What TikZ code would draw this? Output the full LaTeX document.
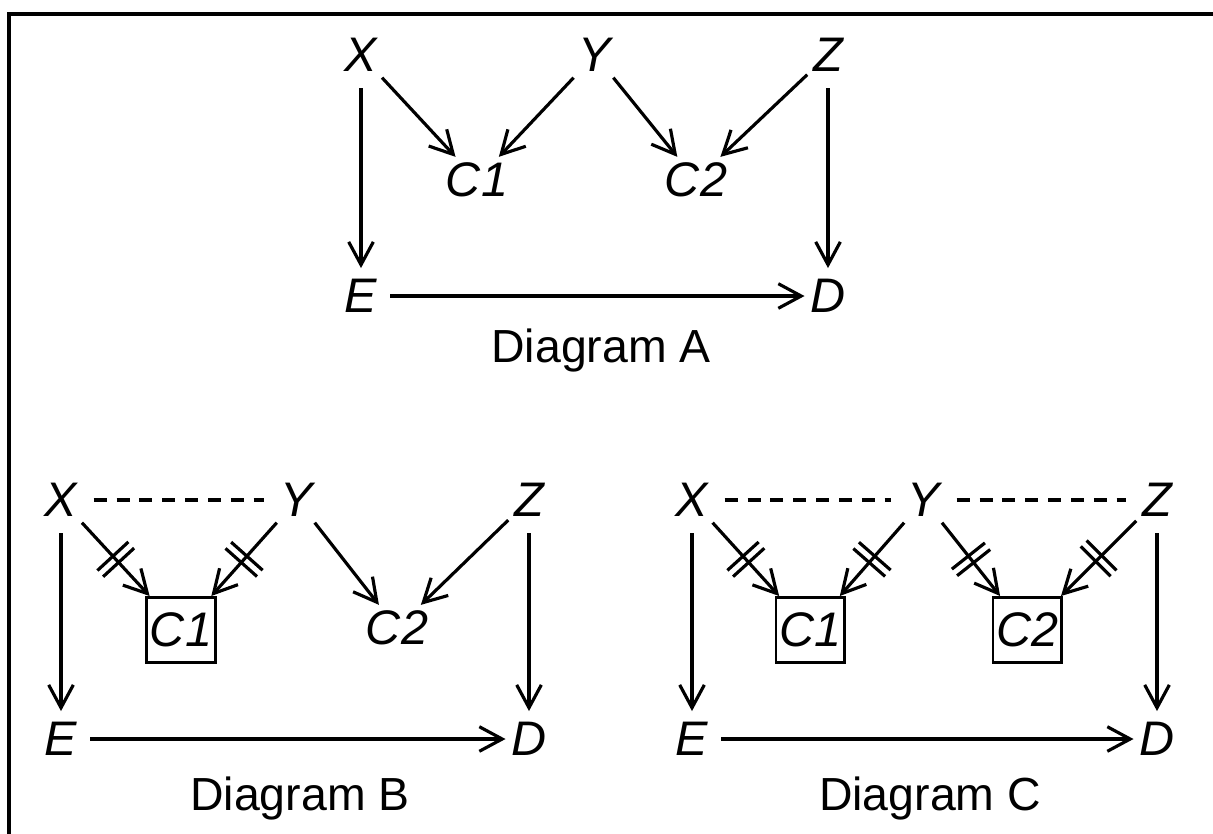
\documentclass[tikz,border=0pt]{standalone}
\usepackage{fontspec}
\setmainfont{Liberation Sans}
\usetikzlibrary{arrows.meta,decorations.markings}
\newcommand{\varfont}{\fontsize{13.8}{16}\selectfont\itshape}
\newcommand{\capfont}{\fontsize{13.2}{16}\selectfont}

\begin{document}
\begin{tikzpicture}[x=0.01cm,y=-0.01cm,
  var/.style={inner sep=1.5pt,font=\varfont},
  cbox/.style={draw,line width=0.85pt,inner sep=0pt,minimum width=0.68cm,minimum height=0.65cm,font=\varfont},
  edge/.style={line width=0.9pt,-{Straight Barb[length=6.5pt,width=7pt]}},
  down/.style={edge,shorten <=3pt,shorten >=1.5pt},
  across/.style={edge,shorten <=2pt},
  cut/.style={edge,postaction={decorate,decoration={markings,
    mark=at position 0.5 with {\draw[-,line width=0.9pt] (-1.2pt,-6pt) -- (-1.2pt,6pt) (1.2pt,-6pt) -- (1.2pt,6pt);}}}},
  link/.style={line width=0.9pt,dash pattern=on 3.7pt off 2.8pt,shorten <=3pt,shorten >=3pt},
  caption/.style={font=\capfont}]
\useasboundingbox (0,0) rectangle (1213,833);
\draw[line width=0.9pt] (9,850) -- (9,14) -- (1230,14);

% Diagram A
\node[var] (xa) at (361,55) {X};
\node[var] (ya) at (595,55) {Y};
\node[var] (za) at (828,55) {Z};
\node[var] (c1a) at (477,180) {C1};
\node[var] (c2a) at (696,180) {C2};
\node[var] (ea) at (361,296) {E};
\node[var] (da) at (828,296) {D};
\node[caption] (capa) at (601,350) {Diagram A};
\draw[down] (xa) -- (ea);
\draw[edge] (xa) -- (c1a);
\draw[edge] (ya) -- (c1a);
\draw[edge] (ya) -- (c2a);
\draw[edge] (za) -- (c2a);
\draw[down] (za) -- (da);
\draw[across] (ea) -- (da);

% Diagram B
\node[var] (xb) at (61,500) {X};
\node[var] (yb) at (297,500) {Y};
\node[var] (zb) at (529,500) {Z};
\node[cbox] (c1b) at (181,630) {C1};
\node[var] (c2b) at (397,628) {C2};
\node[var] (eb) at (61,739) {E};
\node[var] (db) at (529,739) {D};
\node[caption] (capb) at (300,798) {Diagram B};
\draw[link] (xb) -- (yb);
\draw[down] (xb) -- (eb);
\draw[cut] (xb) -- (c1b);
\draw[cut] (yb) -- (c1b);
\draw[edge] (yb) -- (c2b);
\draw[edge] (zb) -- (c2b);
\draw[down] (zb) -- (db);
\draw[across] (eb) -- (db);

% Diagram C
\node[var] (xc) at (692,500) {X};
\node[var] (yc) at (924,500) {Y};
\node[var] (zc) at (1157,500) {Z};
\node[cbox] (c1c) at (810,630) {C1};
\node[cbox] (c2c) at (1027,630) {C2};
\node[var] (ec) at (692,739) {E};
\node[var] (dc) at (1157,739) {D};
\node[caption] (capc) at (930,798) {Diagram C};
\draw[link] (xc) -- (yc);
\draw[link] (yc) -- (zc);
\draw[down] (xc) -- (ec);
\draw[cut] (xc) -- (c1c);
\draw[cut] (yc) -- (c1c);
\draw[cut] (yc) -- (c2c);
\draw[cut] (zc) -- (c2c);
\draw[down] (zc) -- (dc);
\draw[across] (ec) -- (dc);
\end{tikzpicture}
\end{document}
